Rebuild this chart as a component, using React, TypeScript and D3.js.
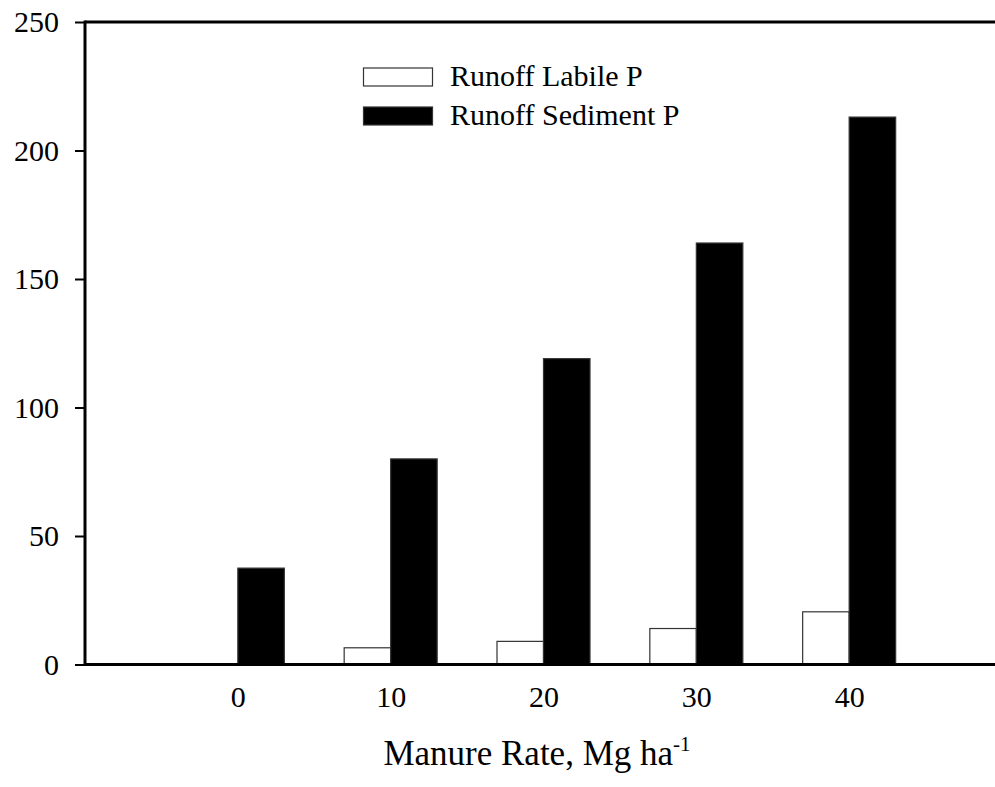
import React, { useEffect, useRef } from 'react';
import * as d3 from 'd3';

const rates = [0, 10, 20, 30, 40];
const labileP = [0, 6.5, 9, 14, 20.5];
const sedimentP = [37.5, 80, 119, 164, 213];
const yTicks = [0, 50, 100, 150, 200, 250];
const seriesNames = ['Runoff Labile P', 'Runoff Sediment P'];
const seriesFill = ['#ffffff', '#000000'];

const App = () => {
  const ref = useRef<SVGGElement>(null);
  const width = 995, height = 787;
  const font = '"Liberation Serif", "Times New Roman", serif';

  const x = d3.scaleLinear().domain([-10, 50]).range([85, 1002]);
  const y = d3.scaleLinear().domain([0, 250]).range([664.5, 22]);
  const barW = 46.5;

  useEffect(() => {
    const g = d3.select(ref.current);
    g.selectAll('*').remove();

    // bars
    [labileP, sedimentP].forEach((vals, s) => {
      g.append('g').selectAll('rect')
        .data(vals.map((v, i) => ({ r: rates[i], v })).filter(d => d.v > 0))
        .enter().append('rect')
        .attr('x', d => x(d.r) - barW + s * barW)
        .attr('y', d => y(d.v))
        .attr('width', barW)
        .attr('height', d => y(0) - y(d.v))
        .attr('fill', seriesFill[s])
        .attr('stroke', '#333')
        .attr('stroke-width', 1.2);
    });

    // axes
    const yAxis = d3.axisLeft(y).tickValues(yTicks).tickSize(10).tickPadding(16);
    const ya = g.append('g').attr('transform', `translate(${x(-10)},0)`).call(yAxis);
    ya.select('.domain').remove();
    ya.selectAll('line').attr('stroke', '#000').attr('stroke-width', 2);
    ya.selectAll('text').attr('font-size', 30).attr('font-family', font).attr('fill', '#000');

    g.append('line')
      .attr('x1', x(-10)).attr('x2', x(-10))
      .attr('y1', y(250) - 1.5).attr('y2', y(0) + 1.5)
      .attr('stroke', '#000').attr('stroke-width', 3);
    g.append('line')
      .attr('x1', x(-10)).attr('x2', width)
      .attr('y1', y(0)).attr('y2', y(0))
      .attr('stroke', '#000').attr('stroke-width', 3);
    g.append('line')
      .attr('x1', x(-10)).attr('x2', width)
      .attr('y1', y(250)).attr('y2', y(250))
      .attr('stroke', '#000').attr('stroke-width', 3);

    const xa = g.append('g').attr('transform', `translate(0,${y(0)})`)
      .call(d3.axisBottom(x).tickValues(rates).tickSize(0).tickPadding(21));
    xa.select('.domain').remove();
    xa.selectAll('text').attr('font-size', 30).attr('font-family', font).attr('fill', '#000');

    // axis title
    const t = g.append('text')
      .attr('x', 537).attr('y', 765)
      .attr('text-anchor', 'middle')
      .attr('font-family', font).attr('font-size', 35);
    t.append('tspan').text('Manure Rate, Mg ha');
    t.append('tspan').attr('dy', -14).attr('font-size', 21).text('-1');

    // legend
    const lg = g.append('g');
    seriesNames.forEach((name, i) => {
      lg.append('rect')
        .attr('x', 363.5).attr('y', 68 + i * 39)
        .attr('width', 69).attr('height', 18)
        .attr('fill', seriesFill[i])
        .attr('stroke', '#333').attr('stroke-width', 1.2);
      lg.append('text')
        .attr('x', 450).attr('y', 86 + i * 39)
        .attr('font-family', font).attr('font-size', 30)
        .text(name);
    });
  }, []);

  return (
    <svg width={width} height={height} style={{ position: 'absolute', left: 0, top: 0, background: '#fff' }}>
      <g ref={ref} />
    </svg>
  );
};

export default App;
